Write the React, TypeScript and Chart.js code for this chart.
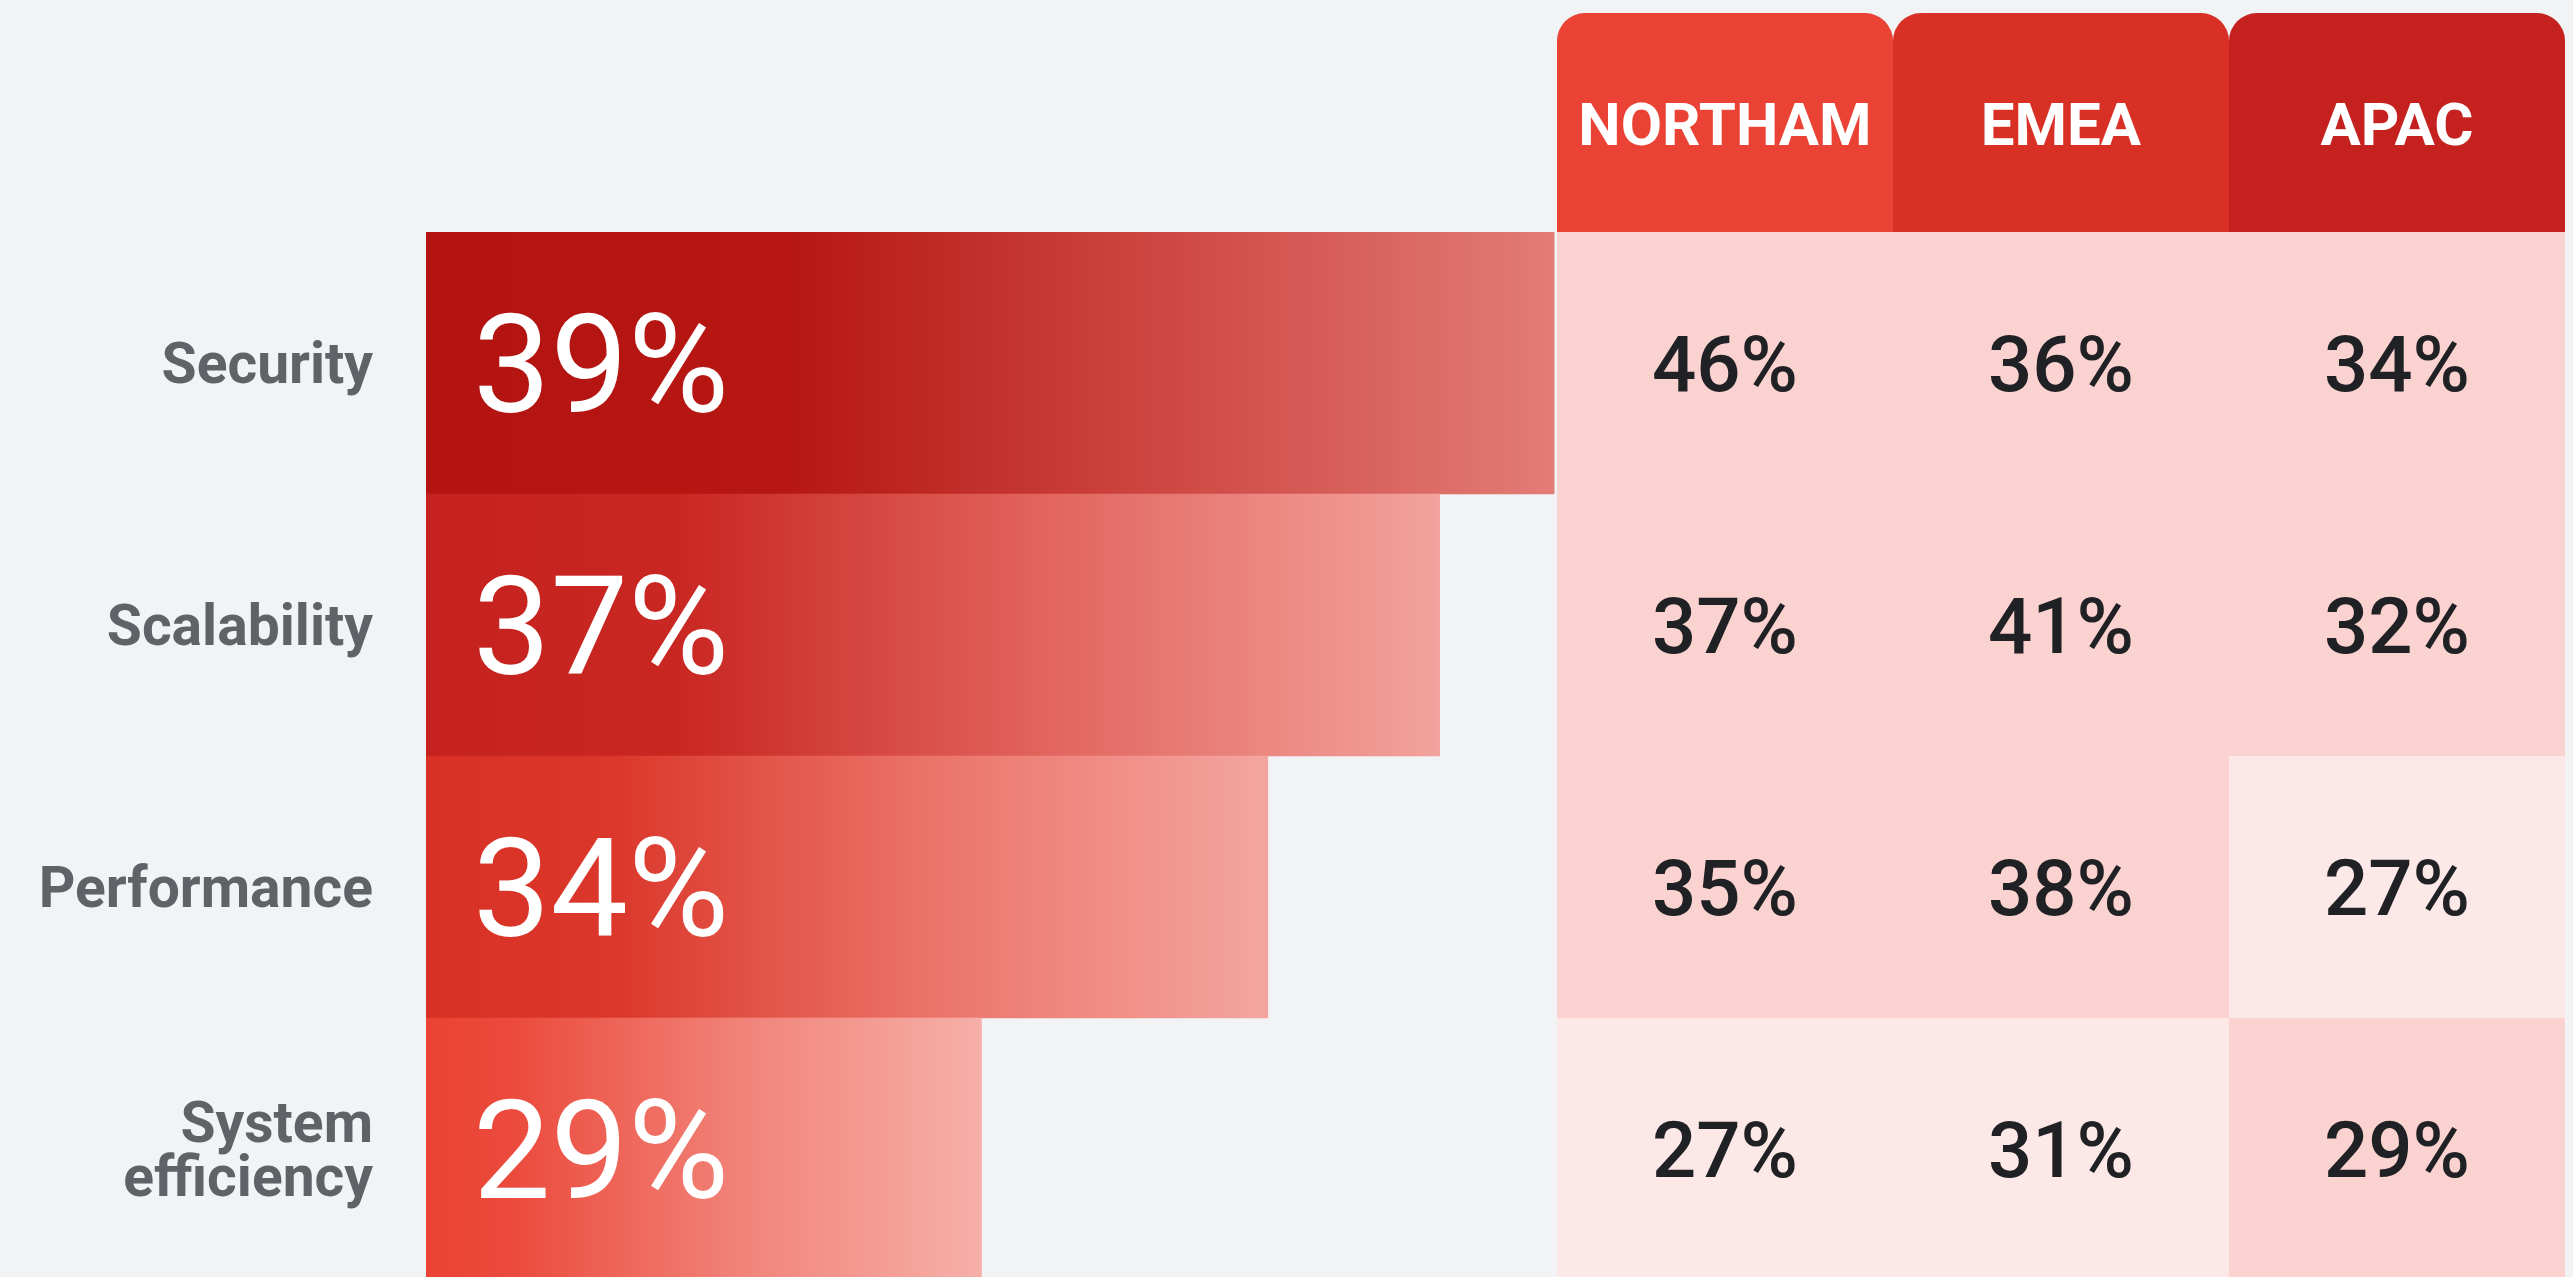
import { useEffect, useRef } from 'react';
import { Chart, registerables } from 'chart.js';

Chart.register(...registerables);

// ---------- data ----------
const categories = ['Security', 'Scalability', 'Performance', 'System efficiency'];
const overallShare = [39, 37, 34, 29];
const regions = ['NORTHAM', 'EMEA', 'APAC'];
const northamShare = [46, 37, 35, 27];
const emeaShare = [36, 41, 38, 31];
const apacShare = [34, 32, 27, 29];
const regionShares = [northamShare, emeaShare, apacShare];

// ---------- style ----------
const FONT = 'Roboto, "Noto Sans", sans-serif';
const BG = '#F1F3F4';
const LABEL_COLOR = '#5F6368';
const VALUE_COLOR = '#202124';
const HEADER_TOP = 13;
const HEADER_RADIUS = 28;
const headerColors = ['#EA4335', '#D93025', '#C5221F'];
const cellDark = '#FAD2CF';
const cellLight = '#FCE8E6';
const barStops: [number, string][][] = [
  [[0, '#B31412'], [0.32, '#B61712'], [0.64, '#CD4540'], [1, '#E37C77']],
  [[0, '#C5221F'], [0.25, '#C92722'], [0.62, '#E2665F'], [1, '#F3A29D']],
  [[0, '#D93025'], [0.22, '#DB372B'], [0.6, '#EB7469'], [1, '#F4A5A0']],
  [[0, '#EA4335'], [0.15, '#EB4A3C'], [0.6, '#F2877D'], [1, '#F6AFA9']],
];

const BAR_FONT = 138;
const CELL_FONT = 78;
const CAP = 0.711;

const zeroPad = (s: any) => {
  s.paddingTop = 0;
  s.paddingBottom = 0;
  s.paddingLeft = 0;
  s.paddingRight = 0;
};

const tablePlugin = {
  id: 'regionTable',
  beforeDraw(chart: any) {
    const { ctx, chartArea, scales } = chart;
    const xs = scales.x2;
    const ys = scales.y;
    ctx.save();
    ctx.fillStyle = BG;
    ctx.fillRect(0, 0, chart.width, chart.height);
    const colHalf = (xs.getPixelForValue(1) - xs.getPixelForValue(0)) / 2;
    const rowHalf = (ys.getPixelForValue(1) - ys.getPixelForValue(0)) / 2;
    regions.forEach((_r, j) => {
      const cx = xs.getPixelForValue(j);
      const l = cx - colHalf;
      const w = colHalf * 2;
      ctx.fillStyle = headerColors[j];
      ctx.beginPath();
      ctx.roundRect(l, HEADER_TOP, w, chartArea.top - HEADER_TOP + 1, [HEADER_RADIUS, HEADER_RADIUS, 0, 0]);
      ctx.fill();
      const vals = regionShares[j];
      const cutoff = [...vals].sort((a, b) => b - a)[2];
      vals.forEach((v, i) => {
        const cy = ys.getPixelForValue(i);
        ctx.fillStyle = v >= cutoff ? cellDark : cellLight;
        ctx.fillRect(l, cy - rowHalf, w, rowHalf * 2);
      });
    });
    ctx.restore();
  },
  afterDatasetsDraw(chart: any) {
    const { ctx, scales } = chart;
    const xs = scales.x2;
    const ys = scales.y;
    const xv = scales.x;
    const barStart = xv.getPixelForValue(xv.min);
    ctx.save();
    // bar value labels
    const meta = chart.getDatasetMeta(0);
    ctx.font = `400 ${BAR_FONT}px ${FONT}`;
    ctx.fillStyle = '#FFFFFF';
    ctx.textAlign = 'left';
    ctx.textBaseline = 'alphabetic';
    meta.data.forEach((bar: any, i: number) => {
      const p = bar.getProps(['y'], true);
      ctx.fillText(`${overallShare[i]}%`, barStart + 47, p.y + (CAP * BAR_FONT) / 2);
    });
    // table values
    ctx.font = `500 ${CELL_FONT}px ${FONT}`;
    ctx.fillStyle = VALUE_COLOR;
    ctx.textAlign = 'center';
    regions.forEach((_r, j) => {
      const cx = xs.getPixelForValue(j);
      regionShares[j].forEach((v, i) => {
        const cy = ys.getPixelForValue(i);
        ctx.fillText(`${v}%`, cx, cy + (CAP * CELL_FONT) / 2);
      });
    });
    ctx.restore();
  },
};

export default function App() {
  const ref = useRef<HTMLCanvasElement | null>(null);

  useEffect(() => {
    if (!ref.current) return;
    Chart.defaults.font.family = FONT;
    const chart = new Chart(ref.current, {
      type: 'bar',
      data: {
        labels: categories,
        datasets: [
          {
            data: overallShare,
            xAxisID: 'x',
            yAxisID: 'y',
            barPercentage: 1,
            categoryPercentage: 1,
            borderWidth: 0,
            backgroundColor: (c: any) => {
              const stops = barStops[c.dataIndex] || barStops[0];
              const ch = c.chart;
              if (!ch.chartArea || !ch.scales.x) return stops[0][1];
              const xs = ch.scales.x;
              const x0 = xs.left;
              const x1 = xs.getPixelForValue(overallShare[c.dataIndex]);
              const g = ch.ctx.createLinearGradient(x0, 0, Math.max(x1, x0 + 1), 0);
              stops.forEach(([o, col]) => g.addColorStop(o, col));
              return g;
            },
          },
        ],
      },
      options: {
        indexAxis: 'y',
        animation: false,
        responsive: false,
        devicePixelRatio: 1,
        layout: { padding: { top: 88, right: 8, bottom: 10, left: 0 } },
        plugins: { legend: { display: false }, tooltip: { enabled: false } },
        scales: {
          x: {
            type: 'linear',
            position: 'top',
            stack: 'cols',
            stackWeight: 1131,
            weight: 2,
            min: 19.3,
            max: 39.05,
            grid: { display: false, drawTicks: false },
            border: { display: false },
            ticks: { display: false },
            afterFit: (s: any) => {
              s.height = 144;
              zeroPad(s);
            },
          },
          x2: {
            type: 'category',
            labels: regions,
            position: 'top',
            stack: 'cols',
            stackWeight: 1008,
            weight: 1,
            offset: true,
            grid: { display: false, drawTicks: false },
            border: { display: false },
            ticks: {
              color: '#FFFFFF',
              font: { family: FONT, size: 60, weight: 'bold', lineHeight: 1.2 },
              padding: 66,
              maxRotation: 0,
              minRotation: 0,
              autoSkip: false,
            },
            afterFit: (s: any) => {
              s.height = 144;
              zeroPad(s);
            },
          },
          y: {
            type: 'category',
            position: 'left',
            grid: { display: false, drawTicks: false },
            border: { display: false },
            ticks: {
              color: LABEL_COLOR,
              font: { family: FONT, size: 57, weight: 'bold', lineHeight: 0.95 },
              padding: 53,
              labelOffset: 6,
              autoSkip: false,
              callback: (_v: any, i: number) => {
                const lab = categories[i];
                return lab.length > 12 ? lab.split(' ') : lab;
              },
            },
            afterFit: (s: any) => {
              s.width = 426;
              zeroPad(s);
            },
          },
        },
      } as any,
      plugins: [tablePlugin],
    });
    return () => chart.destroy();
  }, []);

  return (
    <div
      style={{
        position: 'fixed',
        left: 0,
        top: 0,
        width: '100vw',
        height: '100vh',
        overflow: 'hidden',
        background: BG,
      }}
    >
      <canvas ref={ref} width={2573} height={1290} style={{ display: 'block' }} />
    </div>
  );
}
